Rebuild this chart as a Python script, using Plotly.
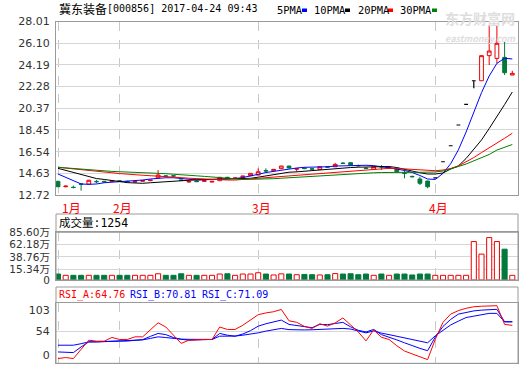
import plotly.graph_objects as go

# ---------------- data ----------------
month_idx = [0, 8, 26, 49]
month_labels = ["1月", "2月", "3月", "4月"]

opens = [13.92, 13.45, 13.40, 13.70, 13.68, 13.92, 13.92, 13.92, 13.98, 13.92,
         13.86, 13.93, 13.99, 14.24, 14.40, 14.41, 14.05, 13.86, 13.95, 13.93,
         13.86, 13.98, 14.28, 14.19, 14.28, 14.42, 14.48, 14.88, 14.86, 15.04,
         15.27, 15.00, 15.10, 15.03, 14.98, 15.20, 15.21, 15.53, 15.57, 15.32,
         15.09, 14.98, 15.22, 15.10, 15.07, 14.66, 14.36, 14.13, 13.95, 14.23,
         15.65, 17.06, 18.89, 20.71, 22.79, 22.79, 25.00, 24.76, 24.85, 23.29]
highs = [13.98, 13.55, 13.55, 13.75, 14.06, 14.05, 13.98, 14.03, 14.02, 13.98,
         13.95, 14.02, 14.05, 14.92, 14.48, 14.48, 14.08, 13.96, 14.00, 14.00,
         13.95, 14.30, 14.32, 14.25, 14.42, 14.66, 15.07, 15.07, 15.00, 15.30,
         15.30, 15.07, 15.15, 15.08, 15.24, 15.25, 15.55, 15.62, 15.60, 15.40,
         15.15, 15.24, 15.36, 15.22, 15.10, 14.92, 14.42, 14.33, 13.98, 14.23,
         15.65, 17.06, 18.89, 20.71, 22.79, 25.00, 27.70, 27.70, 26.23, 23.67]
lows = [13.42, 13.40, 13.30, 13.10, 13.64, 13.75, 13.82, 13.88, 13.90, 13.82,
        13.83, 13.90, 13.94, 14.20, 14.30, 14.32, 13.95, 13.84, 13.88, 13.90,
        13.84, 13.96, 14.15, 14.12, 14.25, 14.40, 14.45, 14.72, 14.84, 15.00,
        15.08, 14.77, 15.00, 14.95, 14.95, 15.12, 15.18, 15.45, 15.34, 15.22,
        15.00, 14.95, 14.92, 15.08, 14.75, 14.19, 14.28, 13.60, 13.31, 14.23,
        15.65, 17.06, 18.89, 20.71, 22.12, 22.79, 24.17, 24.32, 23.29, 23.29]
closes = [13.45, 13.50, 13.38, 13.66, 14.02, 13.89, 13.88, 13.99, 13.93, 13.89,
          13.90, 13.99, 14.03, 14.48, 14.38, 14.39, 14.00, 13.92, 13.90, 13.97,
          13.92, 14.28, 14.19, 14.22, 14.39, 14.63, 14.77, 14.84, 14.98, 15.27,
          15.10, 15.03, 15.05, 15.00, 15.21, 15.18, 15.42, 15.50, 15.36, 15.30,
          15.06, 15.21, 15.20, 15.15, 14.77, 14.62, 14.33, 13.75, 13.45, 14.23,
          15.65, 17.06, 18.89, 20.71, 22.79, 25.00, 25.41, 26.09, 23.50, 23.44]

volume_wan = [10.7, 8.4, 8.4, 8.4, 8.4, 8.4, 8.4, 8.4, 8.4, 8.4,
              8.4, 8.4, 8.4, 11.2, 8.4, 8.4, 11.2, 8.4, 8.4, 8.4,
              8.4, 10.7, 11.2, 8.4, 10.7, 10.7, 13.0, 10.7, 9.0, 11.0,
              10.7, 9.5, 10.0, 9.5, 9.0, 9.5, 11.5, 10.7, 11.2, 9.5,
              10.7, 8.4, 10.7, 8.4, 10.7, 10.7, 9.0, 10.7, 10.7, 8.4,
              8.4, 8.4, 8.4, 8.4, 69.0, 46.4, 76.1, 69.0, 55.3, 8.4]

ma5 = [14.57, 14.28, 14.00, 13.69, 13.66, 13.69, 13.80, 13.84, 13.88, 13.94,
       13.99, 14.04, 14.13, 14.20, 14.24, 14.24, 14.16, 14.09, 14.04, 14.06,
       14.08, 14.10, 14.13, 14.17, 14.26, 14.43, 14.54, 14.70, 14.81, 14.90,
       15.01, 15.10, 15.16, 15.16, 15.16, 15.21, 15.27, 15.30, 15.33, 15.34,
       15.34, 15.31, 15.23, 15.14, 15.01, 14.88, 14.70, 14.44, 14.13, 14.09,
       14.63, 15.48, 16.70, 18.27, 20.07, 21.74, 23.21, 24.32, 24.77, 24.71]
ma10 = [15.07, 14.90, 14.72, 14.54, 14.34, 14.17, 14.09, 13.98, 13.87, 13.81,
        13.78, 13.75, 13.80, 13.85, 13.90, 13.95, 14.01, 14.04, 14.06, 14.08,
        14.09, 14.10, 14.13, 14.15, 14.16, 14.19, 14.29, 14.41, 14.53, 14.64,
        14.73, 14.76, 14.82, 14.87, 14.92, 14.98, 15.03, 15.08, 15.14, 15.17,
        15.20, 15.22, 15.23, 15.23, 15.14, 15.01, 14.83, 14.68, 14.57, 14.57,
        14.66, 15.01, 15.28, 15.94, 16.73, 17.57, 18.58, 19.59, 20.69, 21.80]
ma20 = [15.16, 15.10, 15.04, 14.97, 14.92, 14.83, 14.75, 14.68, 14.61, 14.54,
        14.48, 14.46, 14.42, 14.39, 14.34, 14.29, 14.25, 14.20, 14.16, 14.13,
        14.09, 14.04, 14.04, 14.04, 14.09, 14.15, 14.19, 14.24, 14.28, 14.33,
        14.39, 14.45, 14.50, 14.55, 14.61, 14.68, 14.73, 14.78, 14.83, 14.88,
        14.92, 14.98, 15.04, 15.07, 15.06, 15.01, 14.97, 14.92, 14.88, 14.86,
        14.92, 15.05, 15.28, 15.63, 16.02, 16.46, 16.86, 17.27, 17.72, 18.16]
ma30 = [15.16, 15.10, 15.04, 14.98, 14.92, 14.88, 14.83, 14.80, 14.77, 14.75,
        14.71, 14.68, 14.66, 14.63, 14.60, 14.55, 14.52, 14.48, 14.41, 14.36,
        14.31, 14.24, 14.17, 14.13, 14.10, 14.10, 14.10, 14.13, 14.16, 14.20,
        14.24, 14.28, 14.34, 14.39, 14.45, 14.48, 14.53, 14.57, 14.61, 14.64,
        14.66, 14.68, 14.70, 14.72, 14.72, 14.72, 14.72, 14.72, 14.72, 14.75,
        14.83, 15.01, 15.23, 15.45, 15.72, 15.98, 16.29, 16.68, 16.95, 17.17]

rsi_a = [8.1, 9.8, 8.1, 23.5, 39.5, 37.8, 37.8, 44.1, 40.7, 40.7,
         45.2, 45.2, 56.5, 69.2, 62.0, 48.0, 34.0, 39.5, 40.5, 40.7,
         40.7, 62.0, 57.8, 57.8, 65.0, 74.0, 83.0, 86.0, 88.1, 92.0,
         72.6, 70.0, 63.0, 59.6, 67.5, 63.5, 69.0, 77.5, 65.0, 53.5,
         38.3, 57.0, 44.5, 40.7, 30.0, 21.0, 16.0, 11.0, 6.3, 41.0,
         70.0, 84.0, 90.0, 94.0, 96.6, 97.5, 98.4, 98.4, 66.5, 64.76]
rsi_b = [19.4, 19.0, 18.3, 28.0, 36.6, 36.6, 36.6, 37.5, 37.8, 38.0,
         39.0, 40.5, 46.0, 51.0, 49.0, 44.0, 41.0, 39.5, 40.0, 40.5,
         40.7, 51.0, 48.0, 46.3, 50.0, 55.8, 63.4, 67.5, 70.6, 73.8,
         66.4, 64.5, 62.5, 60.8, 66.4, 66.0, 68.0, 69.9, 62.3, 56.3,
         53.5, 57.8, 49.0, 45.0, 40.0, 35.0, 30.0, 25.5, 21.5, 45.0,
         63.0, 75.0, 84.0, 87.0, 89.5, 90.8, 91.5, 92.2, 70.9, 70.81]
rsi_c = [30.9, 30.9, 30.9, 33.5, 36.6, 36.6, 37.0, 37.5, 37.8, 38.5,
         39.2, 40.0, 42.5, 45.2, 44.0, 42.0, 41.2, 41.0, 40.8, 40.7,
         40.7, 46.3, 46.0, 46.5, 48.0, 49.5, 52.0, 55.0, 57.5, 59.6,
         57.5, 56.6, 57.0, 57.3, 57.6, 57.8, 58.5, 59.6, 58.5, 55.0,
         52.0, 55.4, 51.5, 49.0, 46.0, 43.0, 40.5, 38.0, 35.0, 47.0,
         57.0, 65.5, 72.0, 78.2, 80.5, 83.5, 85.3, 85.3, 70.9, 71.09]

price_ticks = [12.72, 14.63, 16.54, 18.45, 20.37, 22.28, 24.19, 26.10, 28.01]
vol_ticks = [0, 15.34, 38.76, 62.18, 85.60]
rsi_ticks = [0, 54, 103]

stock_name = "冀东装备"
stock_info = "[000856] 2017-04-24 09:43"
ma_names = ["5PMA", "10PMA", "20PMA", "30PMA"]
vol_title = "成交量:1254"
rsi_names = ["RSI_A", "RSI_B", "RSI_C"]

# ---------------- styling ----------------
W, H = 520, 365
ML, MR = 56, 2
PW = W - ML - MR


def px(x):
    return (x - ML) / PW


def py(y):
    return 1 - y / H


RED = "#ee0000"
GREEN = "#00793a"
BLUE = "#0000ff"
MA_COLORS = [BLUE, "#000000", "#ff0000", "#008000"]
GRID = "#d6d6d6"
BORDER = "#9a9a9a"
MONO = "DejaVu Sans Mono, Noto Sans CJK SC, monospace"
LABF = dict(family="DejaVu Sans, Noto Sans CJK SC", size=11, color="#333333")
VOLF = dict(family="DejaVu Sans, Noto Sans CJK SC", size=10.5, color="#333333")

n = len(closes)
xs = list(range(n))
nonflat = [i for i in xs if closes[i] != opens[i]]
flat = [i for i in xs if closes[i] == opens[i]]


def pick(arr, idx):
    return [arr[i] for i in idx]


fig = go.Figure()

# candles
fig.add_trace(go.Candlestick(
    x=nonflat, open=pick(opens, nonflat), high=pick(highs, nonflat),
    low=pick(lows, nonflat), close=pick(closes, nonflat),
    increasing=dict(line=dict(color=RED, width=1), fillcolor="white"),
    decreasing=dict(line=dict(color=GREEN, width=1), fillcolor=GREEN),
    whiskerwidth=0, showlegend=False, xaxis="x", yaxis="y", hoverinfo="skip"))
fig.add_trace(go.Candlestick(
    x=flat, open=pick(opens, flat), high=pick(highs, flat),
    low=pick(lows, flat), close=pick(closes, flat),
    increasing=dict(line=dict(color="#000000", width=1.2), fillcolor="#000000"),
    decreasing=dict(line=dict(color="#000000", width=1.2), fillcolor="#000000"),
    whiskerwidth=0, showlegend=False, xaxis="x", yaxis="y", hoverinfo="skip"))

# moving averages
for name, arr, col in zip(ma_names, [ma5, ma10, ma20, ma30], MA_COLORS):
    fig.add_trace(go.Scatter(x=xs, y=arr, mode="lines", name=name,
                             line=dict(color=col, width=1), showlegend=False,
                             xaxis="x", yaxis="y", hoverinfo="skip"))

# volume
up_v = [i for i in xs if closes[i] >= opens[i]]
dn_v = [i for i in xs if closes[i] < opens[i]]
fig.add_trace(go.Bar(x=up_v, y=pick(volume_wan, up_v), width=0.66,
                     marker=dict(color="white", line=dict(color=RED, width=1)),
                     showlegend=False, xaxis="x2", yaxis="y2", hoverinfo="skip"))
fig.add_trace(go.Bar(x=dn_v, y=pick(volume_wan, dn_v), width=0.66,
                     marker=dict(color=GREEN, line=dict(color=GREEN, width=1)),
                     showlegend=False, xaxis="x2", yaxis="y2", hoverinfo="skip"))
# empty trace carrying the volume label axis
fig.add_trace(go.Scatter(x=[], y=[], xaxis="x2", yaxis="y5", showlegend=False))

# RSI
for arr, col in zip([rsi_c, rsi_b, rsi_a], [BLUE, BLUE, "#ff0000"]):
    fig.add_trace(go.Scatter(x=xs, y=arr, mode="lines", line=dict(color=col, width=1),
                             showlegend=False, xaxis="x3", yaxis="y3", hoverinfo="skip"))
# empty trace to carry the RSI label axis
fig.add_trace(go.Scatter(x=[], y=[], xaxis="x3", yaxis="y4", showlegend=False))

xr = [-0.26, n - 0.26]
xcommon = dict(range=xr, tickvals=month_idx, showticklabels=False, ticks="",
               showgrid=True, gridcolor="#c8c8c8", griddash="dash", gridwidth=1,
               zeroline=False, showline=True, mirror=True, linecolor=BORDER,
               linewidth=1, fixedrange=True, automargin=False)

main_dom = [py(195), py(21.5)]
vol_dom = [py(280), py(232.3)]
rsi_dom = [py(363.3), py(303)]

ycommon = dict(zeroline=False, ticks="outside", ticklen=3,
               tickcolor="rgba(0,0,0,0)", tickfont=LABF, automargin=False,
               fixedrange=True)
frame = dict(showline=True, mirror=True, linecolor=BORDER)

fig.update_layout(
    width=W, height=H,
    margin=dict(l=ML, r=MR, t=0, b=0, pad=0, autoexpand=False),
    paper_bgcolor="white", plot_bgcolor="white",
    font=LABF, showlegend=False,
    bargap=0, barmode="overlay", boxmode="overlay",
    xaxis=dict(**xcommon, anchor="y", rangeslider=dict(visible=False)),
    xaxis2=dict(**xcommon, anchor="y2", matches="x"),
    xaxis3=dict(**xcommon, anchor="y3", matches="x"),
    yaxis=dict(**ycommon, **frame, domain=main_dom,
               range=[price_ticks[0], price_ticks[-1]],
               tickvals=price_ticks, ticktext=[f"{v:.2f}" for v in price_ticks],
               showgrid=True, gridcolor=GRID, anchor="x"),
    # volume data axis (only the zero label)
    yaxis2=dict(**{**ycommon, "tickfont": VOLF}, **frame, domain=vol_dom,
                range=[vol_ticks[0], vol_ticks[-1]],
                tickvals=[vol_ticks[0]], ticktext=[str(vol_ticks[0])],
                showgrid=False, anchor="x2"),
    # volume label axis, spaced the way the source chart spaces its labels
    yaxis5=dict(**{**ycommon, "tickfont": VOLF}, overlaying="y2", anchor="x2",
                side="left", range=[-5.0, vol_ticks[-1]], tickvals=vol_ticks[1:],
                ticktext=[f"{v:.2f}万" for v in vol_ticks[1:]],
                showgrid=True, gridcolor=GRID, showline=False),
    yaxis3=dict(**ycommon, **frame, domain=rsi_dom,
                range=[rsi_ticks[0], rsi_ticks[-1]],
                tickvals=[rsi_ticks[1]], showticklabels=False,
                showgrid=True, gridcolor=GRID, anchor="x3"),
    yaxis4=dict(**ycommon, overlaying="y3", anchor="x3", side="left",
                range=[-18.3, 119], tickvals=rsi_ticks,
                ticktext=[str(v) for v in rsi_ticks], showgrid=False,
                showline=False),
)

shapes = []
# panel boxes (volume & RSI title areas)
shapes.append(dict(type="rect", xref="paper", yref="paper", x0=0, x1=1,
                   y0=py(280), y1=py(214), line=dict(color=BORDER, width=1)))
shapes.append(dict(type="line", xref="paper", yref="paper", x0=0, x1=1,
                   y0=py(232.3), y1=py(232.3), line=dict(color=BORDER, width=1)))
shapes.append(dict(type="rect", xref="paper", yref="paper", x0=0, x1=1,
                   y0=py(363.3), y1=py(287), line=dict(color=BORDER, width=1)))

annotations = []
annotations.append(dict(text=stock_name, xref="paper", yref="paper",
                        x=px(57), y=py(8.5), xanchor="left", yanchor="middle",
                        showarrow=False,
                        font=dict(family="Noto Sans CJK SC", size=12, color="#000")))
annotations.append(dict(text=stock_info, xref="paper", yref="paper",
                        x=px(105), y=py(8.5), xanchor="left", yanchor="middle",
                        showarrow=False, font=dict(family=MONO, size=10, color="#000")))

# MA legend: text followed by a coloured block
leg_text_x = [275, 312, 356, 398]
leg_box_x = [302, 345, 388, 432]
for name, col, tx, bx in zip(ma_names, MA_COLORS, leg_text_x, leg_box_x):
    annotations.append(dict(text=name, xref="paper", yref="paper", x=px(tx), y=py(10),
                            xanchor="left", yanchor="middle", showarrow=False,
                            font=dict(family=MONO, size=10.4, color="#000")))
    shapes.append(dict(type="rect", xref="paper", yref="paper", x0=px(bx), x1=px(bx + 5),
                       y0=py(12), y1=py(8.5), fillcolor=col, line=dict(width=0)))

# watermark (one block of two lines)
annotations.append(dict(
    text="<b>东方财富网</b><br><span style='font-size:9px'><i><b>eastmoney.com</b></i></span>",
    xref="paper", yref="paper", x=px(518), y=py(26), xanchor="right",
    yanchor="middle", align="right", showarrow=False,
    font=dict(family="Noto Sans CJK SC, DejaVu Sans", size=14, color="#dedede")))

# month labels
for k, (mi, ml) in enumerate(zip(month_idx, month_labels)):
    annotations.append(dict(text=ml, xref="x", yref="paper", x=mi, y=py(207),
                            xanchor="left" if k == 0 else "center", yanchor="middle",
                            xshift=2 if k == 0 else 3, showarrow=False,
                            font=dict(family="Noto Sans CJK SC", size=12, color="#ff0000")))

# volume title
annotations.append(dict(text=vol_title, xref="paper", yref="paper", x=px(57), y=py(223),
                        xanchor="left", yanchor="middle", showarrow=False,
                        font=dict(family=MONO, size=11.5, color="#000")))

# RSI title
rsi_last = [rsi_a[-1], rsi_b[-1], rsi_c[-1]]
rsi_cols = ["#ff0000", BLUE, BLUE]
rsi_tx = [57, 128, 200]
for nm, v, col, tx in zip(rsi_names, rsi_last, rsi_cols, rsi_tx):
    annotations.append(dict(text=f"{nm}:{v:.2f}", xref="paper", yref="paper",
                            x=px(tx), y=py(294.5), xanchor="left", yanchor="middle",
                            showarrow=False, font=dict(family=MONO, size=10, color=col)))

fig.update_layout(shapes=shapes, annotations=annotations)

fig.write_html("out.html", config={"displayModeBar": False, "staticPlot": True},
               post_script="document.body.style.margin='0px';"
                           "document.body.style.overflow='hidden';")
